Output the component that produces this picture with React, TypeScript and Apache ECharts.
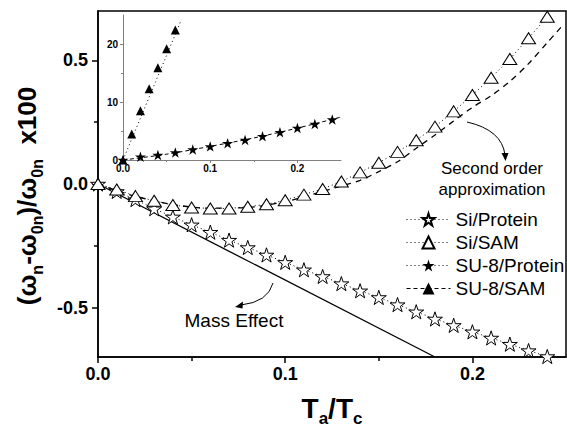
import React, { useEffect, useRef } from "react";
import * as echarts from "echarts";

const W = 567;
const H = 432;

// ---- main plot data ----
const siX = [0, 0.01, 0.02, 0.03, 0.04, 0.05, 0.06, 0.07, 0.08, 0.09, 0.1, 0.11, 0.12, 0.13, 0.14, 0.15, 0.16, 0.17, 0.18, 0.19, 0.2, 0.21, 0.22, 0.23, 0.24];
const siProtein = [0, -0.03, -0.063, -0.1, -0.133, -0.165, -0.195, -0.227, -0.257, -0.287, -0.317, -0.347, -0.374, -0.403, -0.432, -0.459, -0.488, -0.517, -0.546, -0.572, -0.598, -0.623, -0.648, -0.674, -0.698];
const siSAM = [0, -0.022, -0.049, -0.068, -0.085, -0.095, -0.099, -0.099, -0.092, -0.082, -0.066, -0.043, -0.02, 0.01, 0.047, 0.086, 0.13, 0.177, 0.232, 0.294, 0.36, 0.43, 0.506, 0.59, 0.677];
const secondOrderX = [0, 0.02, 0.04, 0.06, 0.08, 0.1, 0.11, 0.12, 0.13, 0.14, 0.15, 0.16, 0.17, 0.18, 0.19, 0.2, 0.21, 0.22, 0.23, 0.24, 0.248];
const secondOrderY = [0, -0.05, -0.083, -0.098, -0.095, -0.072, -0.052, -0.03, -0.008, 0.015, 0.05, 0.09, 0.145, 0.198, 0.255, 0.31, 0.357, 0.415, 0.487, 0.572, 0.64];
const massX = [0, 0.18];
const massY = [0, -0.7];

// ---- inset data ----
const su8ProteinX = [0, 0.02, 0.04, 0.06, 0.08, 0.1, 0.12, 0.14, 0.16, 0.18, 0.2, 0.22, 0.24];
const su8Protein = [0, 0.55, 0.85, 1.3, 1.8, 2.35, 2.9, 3.45, 4.1, 4.8, 5.5, 6.2, 7.0];
const su8ProteinFitX = [0, 0.05, 0.1, 0.15, 0.2, 0.25];
const su8ProteinFitY = [0, 1.0, 2.35, 3.8, 5.5, 7.4];
const su8SAMX = [0, 0.01, 0.02, 0.03, 0.04, 0.05, 0.06];
const su8SAM = [0, 4.5, 8.5, 12.3, 15.9, 19.2, 22.4];
const su8SAMFitX = [0, 0.067];
const su8SAMFitY = [0, 24.2];

// ---- ticks ----
const xMajor = [0, 0.1, 0.2];
const xMinor = [0.05, 0.15];
const yMajor = [-0.5, 0, 0.5];
const yMinor = [-0.25, 0.25];
const insetYMajor = [0, 10, 20];
const insetYMinor = [5, 15];

const legendNames = ["Si/Protein", "Si/SAM", "SU-8/Protein", "SU-8/SAM"];

const STAR =
  "path://M50,0L61.2,34.5L97.6,34.5L68.2,55.9L79.4,90.5L50,69.1L20.6,90.5L31.8,55.9L2.4,34.5L38.8,34.5Z";

const FONT = "'Liberation Sans', Arial, sans-serif";

const pairs = (xs: number[], ys: number[]) => xs.map((x, i) => [x, ys[i]]);

export default function App() {
  const ref = useRef<HTMLDivElement>(null);
  useEffect(() => {
    const chart = echarts.init(ref.current!, null, { renderer: "svg", width: W, height: H });

    const majorAxisLine = { show: true, onZero: false, lineStyle: { color: "#000", width: 1.5 } };
    const insetAxisLine = { show: true, onZero: false, lineStyle: { color: "#808080", width: 1 } };
    const hiddenLine = { show: false, onZero: false };
    const dotted = [1, 3];
    const dashed = [4, 3];

    chart.setOption({
      animation: false,
      backgroundColor: "#fff",
      grid: [
        { left: 98, top: 11, width: 468, height: 353, show: true, borderColor: "#000", borderWidth: 1.5, backgroundColor: "transparent", containLabel: false },
        { left: 123, top: 15, width: 218, height: 145, show: false, containLabel: false },
      ],
      xAxis: [
        {
          gridIndex: 0, type: "value", position: "bottom", min: 0, max: 0.25,
          axisLine: majorAxisLine,
          axisTick: { show: true, inside: false, length: 6, lineStyle: { color: "#000", width: 1.5 }, customValues: xMajor },
          axisLabel: { show: true, customValues: xMajor, formatter: (v: number) => v.toFixed(1), fontSize: 18, fontWeight: "bold", color: "#000", fontFamily: FONT, margin: 8 },
          splitLine: { show: false },
          name: "{m|T}{s|a}{m|/T}{s|c}",
          nameLocation: "middle",
          nameGap: 32,
          nameTextStyle: {
            color: "#000",
            rich: {
              m: { fontSize: 28, fontWeight: "bold", fontFamily: FONT, color: "#000", lineHeight: 38 },
              s: { fontSize: 17, fontWeight: "bold", fontFamily: FONT, color: "#000", lineHeight: 16, verticalAlign: "bottom" },
            },
          },
        },
        {
          gridIndex: 0, type: "value", position: "bottom", min: 0, max: 0.25,
          axisLine: hiddenLine,
          axisTick: { show: true, inside: false, length: 4, lineStyle: { color: "#000", width: 1.5 }, customValues: xMinor },
          axisLabel: { show: false },
          splitLine: { show: false },
        },
        {
          gridIndex: 1, type: "value", position: "bottom", min: 0, max: 0.25,
          axisLine: insetAxisLine,
          axisTick: { show: true, inside: false, length: 3, lineStyle: { color: "#808080", width: 1 }, customValues: xMajor },
          axisLabel: { show: true, customValues: xMajor, formatter: (v: number) => v.toFixed(1), fontSize: 10, fontWeight: "bold", color: "#000", fontFamily: FONT, margin: 3 },
          splitLine: { show: false },
        },
        {
          gridIndex: 1, type: "value", position: "bottom", min: 0, max: 0.25,
          axisLine: hiddenLine,
          axisTick: { show: true, inside: false, length: 2, lineStyle: { color: "#808080", width: 1 }, customValues: xMinor },
          axisLabel: { show: false },
          splitLine: { show: false },
        },
      ],
      yAxis: [
        {
          gridIndex: 0, type: "value", position: "left", min: -0.7, max: 0.7,
          axisLine: majorAxisLine,
          axisTick: { show: true, inside: false, length: 6, lineStyle: { color: "#000", width: 1.5 }, customValues: yMajor },
          axisLabel: { show: true, customValues: yMajor, formatter: (v: number) => v.toFixed(1), fontSize: 18, fontWeight: "bold", color: "#000", fontFamily: FONT, margin: 10 },
          splitLine: { show: false },
          name: "{m|(ω}{s|n}{m|-ω}{s|0n}{m|)/ω}{s|0n}{m|  x100}",
          nameLocation: "middle",
          nameRotate: 90,
          nameGap: 53,
          nameTextStyle: {
            color: "#000",
            padding: [0, 24, 0, 0],
            rich: {
              m: { fontSize: 26, fontWeight: "bold", fontFamily: FONT, color: "#000", lineHeight: 36 },
              s: { fontSize: 16, fontWeight: "bold", fontFamily: FONT, color: "#000", lineHeight: 14, verticalAlign: "bottom" },
            },
          },
        },
        {
          gridIndex: 0, type: "value", position: "left", min: -0.7, max: 0.7,
          axisLine: hiddenLine,
          axisTick: { show: true, inside: false, length: 4, lineStyle: { color: "#000", width: 1.5 }, customValues: yMinor },
          axisLabel: { show: false },
          splitLine: { show: false },
        },
        {
          gridIndex: 1, type: "value", position: "left", min: 0, max: 25,
          axisLine: insetAxisLine,
          axisTick: { show: true, inside: false, length: 3, lineStyle: { color: "#808080", width: 1 }, customValues: insetYMajor },
          axisLabel: { show: true, customValues: insetYMajor, formatter: (v: number) => String(v), fontSize: 10, fontWeight: "bold", color: "#000", fontFamily: FONT, margin: 5 },
          splitLine: { show: false },
        },
        {
          gridIndex: 1, type: "value", position: "left", min: 0, max: 25,
          axisLine: hiddenLine,
          axisTick: { show: true, inside: false, length: 2, lineStyle: { color: "#808080", width: 1 }, customValues: insetYMinor },
          axisLabel: { show: false },
          splitLine: { show: false },
        },
      ],
      legend: {
        show: true,
        orient: "vertical",
        left: 406,
        top: 210,
        itemWidth: 44,
        itemHeight: 15,
        itemGap: 4,
        itemTextGap: 6,
        padding: 0,
        data: [
          { name: legendNames[0], lineStyle: { color: "#000", width: 1, type: dotted, opacity: 1 } },
          { name: legendNames[1], lineStyle: { color: "#000", width: 1, type: dotted, opacity: 1 } },
          { name: legendNames[2], lineStyle: { color: "#000", width: 1, type: dotted, opacity: 1 } },
          { name: legendNames[3], lineStyle: { color: "#000", width: 1, type: dashed, opacity: 1 } },
        ],
        textStyle: { fontSize: 19, fontFamily: FONT, color: "#000" },
      },
      series: [
        {
          name: "Mass Effect", type: "line", xAxisIndex: 0, yAxisIndex: 0,
          data: pairs(massX, massY), showSymbol: false, symbol: "none",
          lineStyle: { color: "#000", width: 1.3, type: "solid" }, z: 2,
        },
        {
          name: "Second order approximation", type: "line", xAxisIndex: 0, yAxisIndex: 0,
          data: pairs(secondOrderX, secondOrderY), symbol: "none", smooth: 0.3,
          lineStyle: { color: "#000", width: 1.3, type: [6, 5] }, z: 2,
        },
        {
          name: "Si/Protein", type: "line", xAxisIndex: 0, yAxisIndex: 0,
          data: pairs(siX, siProtein), symbol: STAR, symbolSize: 15, symbolKeepAspect: true, clip: false,
          itemStyle: { color: "#fff", borderColor: "#000", borderWidth: 1 },
          lineStyle: { color: "#000", width: 1, type: dotted }, z: 4,
        },
        {
          name: "Si/SAM", type: "line", xAxisIndex: 0, yAxisIndex: 0,
          data: pairs(siX, siSAM), symbol: "triangle", symbolSize: [14, 11], clip: false,
          itemStyle: { color: "#fff", borderColor: "#000", borderWidth: 1 },
          lineStyle: { color: "#000", width: 1, type: dotted }, z: 4,
        },
        {
          name: "SU-8/Protein fit", type: "line", xAxisIndex: 2, yAxisIndex: 2,
          data: pairs(su8ProteinFitX, su8ProteinFitY), symbol: "none", smooth: 0.3,
          lineStyle: { color: "#000", width: 1, type: dashed }, z: 3,
        },
        {
          name: "SU-8/Protein", type: "line", xAxisIndex: 2, yAxisIndex: 2,
          data: pairs(su8ProteinX, su8Protein), symbol: STAR, symbolSize: 11, symbolKeepAspect: true, clip: false,
          itemStyle: { color: "#000", borderColor: "#000", borderWidth: 0 },
          lineStyle: { color: "#000", width: 1, type: dotted, opacity: 0 }, z: 4,
        },
        {
          name: "SU-8/SAM fit", type: "line", xAxisIndex: 2, yAxisIndex: 2,
          data: pairs(su8SAMFitX, su8SAMFitY), symbol: "none",
          lineStyle: { color: "#000", width: 1, type: dotted }, z: 3,
        },
        {
          name: "SU-8/SAM", type: "line", xAxisIndex: 2, yAxisIndex: 2,
          data: pairs(su8SAMX, su8SAM), symbol: "triangle", symbolSize: [9, 9], clip: false,
          itemStyle: { color: "#000", borderColor: "#000", borderWidth: 0 },
          lineStyle: { color: "#000", width: 1, type: dashed, opacity: 0 }, z: 4,
        },
      ],
      graphic: [
        {
          type: "text", x: 234, y: 320, z: 10,
          style: { text: "Mass Effect", fontSize: 19, fontFamily: FONT, fill: "#000", align: "center", verticalAlign: "middle" },
        },
        {
          type: "text", x: 492, y: 168, z: 10,
          style: { text: "Second order", fontSize: 17, fontFamily: FONT, fill: "#000", align: "center", verticalAlign: "middle" },
        },
        {
          type: "text", x: 492, y: 189, z: 10,
          style: { text: "approximation", fontSize: 17, fontFamily: FONT, fill: "#000", align: "center", verticalAlign: "middle" },
        },
        {
          type: "bezierCurve", z: 10,
          shape: { x1: 273, y1: 283, cpx1: 268, cpy1: 302, x2: 241, y2: 305 },
          style: { stroke: "#000", lineWidth: 1, fill: "none" },
        },
        {
          type: "polygon", z: 10,
          shape: { points: [[235, 307], [243, 301.5], [242.5, 308.5]] },
          style: { fill: "#000" },
        },
        {
          type: "bezierCurve", z: 10,
          shape: { x1: 467, y1: 122, cpx1: 502, cpy1: 130, x2: 505, y2: 155 },
          style: { stroke: "#000", lineWidth: 1, fill: "none" },
        },
        {
          type: "polygon", z: 10,
          shape: { points: [[505.5, 161], [501.5, 153], [508.5, 153]] },
          style: { fill: "#000" },
        },
      ],
    });
    return () => chart.dispose();
  }, []);
  return (
    <div
      ref={ref}
      style={{ position: "fixed", left: 0, top: 0, width: W, height: H, background: "#fff" }}
    />
  );
}
